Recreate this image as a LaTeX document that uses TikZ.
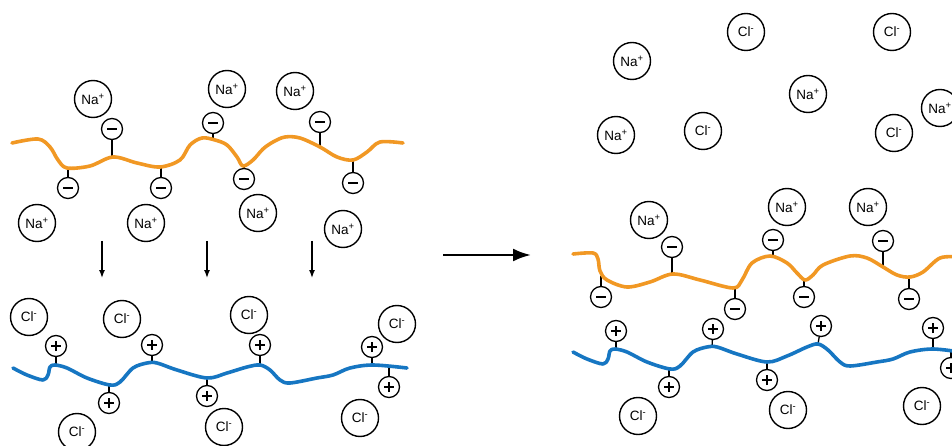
\documentclass[tikz,border=0pt]{standalone}
\usepackage{fontspec}
\setmainfont{Liberation Sans}
\usetikzlibrary{arrows.meta}
\definecolor{polyneg}{RGB}{241,152,36}
\definecolor{polypos}{RGB}{22,118,194}
\tikzset{
  ion/.style={circle, draw, line width=1.4pt, minimum size=37pt, inner sep=0pt,
    font=\fontsize{13.5}{15}\selectfont},
  chg/.style={circle, draw, line width=1.3pt, minimum size=21pt, inner sep=0pt},
  negchg/.style={chg, path picture={\draw[line width=1.3pt] ([xshift=-5pt]path picture bounding box.center) -- ([xshift=5pt]path picture bounding box.center);}},
  poschg/.style={chg, path picture={
    \draw[line width=1.3pt] ([xshift=-5pt]path picture bounding box.center) -- ([xshift=5pt]path picture bounding box.center);
    \draw[line width=1.3pt] ([yshift=-5pt]path picture bounding box.center) -- ([yshift=5pt]path picture bounding box.center);}},
  stem/.style={line width=1.3pt},
  chainneg/.style={draw=polyneg, line width=3.6pt, line cap=round, line join=round},
  chainpos/.style={draw=polypos, line width=3.6pt, line cap=round, line join=round},
  flow/.style={line width=1.4pt, -{Latex[length=8pt,width=6pt]}},
  bigflow/.style={line width=2.6pt, -{Latex[length=18pt,width=13pt]}}
}
\newcommand{\na}{Na\textsuperscript{+}}
\newcommand{\cl}{Cl\textsuperscript{-}}
\begin{document}
\begin{tikzpicture}[x=1pt,y=-1pt]
\clip (0,0) rectangle (952,446);

% ---------- left: polyanion layer with sodium counter-ions ----------
\node[ion] (na1) at (93,99) {\na};
\node[ion] (na2) at (227,89) {\na};
\node[ion] (na3) at (295,91) {\na};
\node[ion] (na4) at (37,223) {\na};
\node[ion] (na5) at (146,223) {\na};
\node[ion] (na6) at (258,213) {\na};
\node[ion] (na7) at (343,229) {\na};

\coordinate (ao1) at (112,157);
\coordinate (ao2) at (68,168);
\coordinate (ao3) at (161,167);
\coordinate (ao4) at (213,139);
\coordinate (ao5) at (244,166);
\coordinate (ao6) at (320,147);
\coordinate (ao7) at (353,160);
\node[negchg] (mo1) at (112,129) {};
\node[negchg] (mo2) at (68,188) {};
\node[negchg] (mo3) at (161,188) {};
\node[negchg] (mo4) at (213,123) {};
\node[negchg] (mo5) at (244,179) {};
\node[negchg] (mo6) at (320,122) {};
\node[negchg] (mo7) at (353,183) {};
\foreach \i in {1,...,7} \draw[stem] (mo\i) -- (ao\i);

\draw[chainneg] plot[smooth, tension=0.55] coordinates {
  (12,143) (38,139) (50,147) (58,160) (67,168) (90,166) (113,157) (137,163)
  (160,167) (180,160) (190,145) (202,138) (215,140) (227,145) (237,157)
  (243,166) (253,160) (263,149) (273,142) (285,137) (300,138) (320,147)
  (337,157) (353,160) (367,152) (380,142) (403,143)};

% downward arrows
\coordinate (d1s) at (102,241); \coordinate (d1e) at (102,278);
\coordinate (d2s) at (207,241); \coordinate (d2e) at (207,278);
\coordinate (d3s) at (312,241); \coordinate (d3e) at (312,278);
\draw[flow] (d1s) -- (d1e);
\draw[flow] (d2s) -- (d2e);
\draw[flow] (d3s) -- (d3e);

% ---------- left: polycation layer with chloride counter-ions ----------
\node[ion] (cl1) at (29,317) {\cl};
\node[ion] (cl2) at (122,319) {\cl};
\node[ion] (cl3) at (249,315) {\cl};
\node[ion] (cl4) at (397,324) {\cl};
\node[ion] (cl5) at (77,432) {\cl};
\node[ion] (cl6) at (224,427) {\cl};
\node[ion] (cl7) at (360,418) {\cl};

\coordinate (ab1) at (56,365);
\coordinate (ab2) at (109,385);
\coordinate (ab3) at (152,363);
\coordinate (ab4) at (207,378);
\coordinate (ab5) at (260,365);
\coordinate (ab6) at (372,365);
\coordinate (ab7) at (389,366);
\node[poschg] (pb1) at (56,346) {};
\node[poschg] (pb2) at (109,403) {};
\node[poschg] (pb3) at (152,345) {};
\node[poschg] (pb4) at (207,396) {};
\node[poschg] (pb5) at (260,345) {};
\node[poschg] (pb6) at (372,347) {};
\node[poschg] (pb7) at (389,387) {};
\foreach \i in {1,...,7} \draw[stem] (pb\i) -- (ab\i);

\draw[chainpos] plot[smooth, tension=0.55] coordinates {
  (13,368) (27,375) (43,380) (48,375) (50,367) (55,365) (67,368) (87,378)
  (110,385) (120,382) (133,368) (147,363) (157,363) (177,370) (207,378)
  (227,373) (247,367) (260,365) (270,370) (280,380) (290,383) (317,378)
  (333,375) (350,368) (373,365) (407,368)};

% ---------- process arrow ----------
\coordinate (ps) at (443,255);
\coordinate (pe) at (531,255);
\draw[bigflow] (ps) -- (pe);

% ---------- right: released salt ----------
\node[ion] (rna1) at (632,61) {\na};
\node[ion] (rna2) at (616,135) {\na};
\node[ion] (rna3) at (808,94) {\na};
\node[ion] (rna4) at (940,108) {\na};
\node[ion] (rcl1) at (746,32) {\cl};
\node[ion] (rcl2) at (703,131) {\cl};
\node[ion] (rcl3) at (892,32) {\cl};
\node[ion] (rcl4) at (894,133) {\cl};

% ---------- right: complexed polyanion ----------
\node[ion] (rna5) at (649,220) {\na};
\node[ion] (rna6) at (787,207) {\na};
\node[ion] (rna7) at (868,207) {\na};

\coordinate (ro1) at (601,276);
\coordinate (ro2) at (672,274);
\coordinate (ro3) at (735,288);
\coordinate (ro4) at (773,257);
\coordinate (ro5) at (804,280);
\coordinate (ro6) at (883,267);
\coordinate (ro7) at (909,277);
\node[negchg] (rm1) at (601,297) {};
\node[negchg] (rm2) at (672,247) {};
\node[negchg] (rm3) at (735,309) {};
\node[negchg] (rm4) at (773,240) {};
\node[negchg] (rm5) at (804,297) {};
\node[negchg] (rm6) at (883,241) {};
\node[negchg] (rm7) at (909,299) {};
\foreach \i in {1,...,7} \draw[stem] (rm\i) -- (ro\i);

\draw[chainneg] plot[smooth, tension=0.55] coordinates {
  (573,254) (593,253) (598,259) (600,271) (607,280) (627,287) (650,282)
  (673,274) (700,280) (733,288) (742,280) (752,263) (770,256) (787,263)
  (797,273) (805,280) (813,275) (823,265) (850,256) (867,258) (883,267)
  (897,275) (910,277) (923,272) (940,258) (958,257)};

% ---------- right: complexed polycation ----------
\coordinate (rb1) at (616,349);
\coordinate (rb2) at (669,369);
\coordinate (rb3) at (712,347);
\coordinate (rb4) at (767,362);
\coordinate (rb5) at (818,344);
\coordinate (rb6) at (933,349);
\coordinate (rb7) at (951,350);
\node[poschg] (rp1) at (616,331) {};
\node[poschg] (rp2) at (669,387) {};
\node[poschg] (rp3) at (713,329) {};
\node[poschg] (rp4) at (767,380) {};
\node[poschg] (rp5) at (821,326) {};
\node[poschg] (rp6) at (933,328) {};
\node[poschg] (rp7) at (951,368) {};
\foreach \i in {1,...,7} \draw[stem] (rp\i) -- (rb\i);

\draw[chainpos] plot[smooth, tension=0.55] coordinates {
  (573,352) (587,359) (603,364) (608,359) (610,351) (615,349) (627,352)
  (647,362) (670,369) (680,366) (693,352) (707,347) (717,347) (737,354)
  (767,362) (787,356) (807,347) (818,344) (828,350) (840,362) (850,366)
  (877,362) (893,359) (910,352) (933,349) (960,352)};

\node[ion] (rcl5) at (638,416) {\cl};
\node[ion] (rcl6) at (788,410) {\cl};
\node[ion] (rcl7) at (922,406) {\cl};
\end{tikzpicture}
\end{document}
